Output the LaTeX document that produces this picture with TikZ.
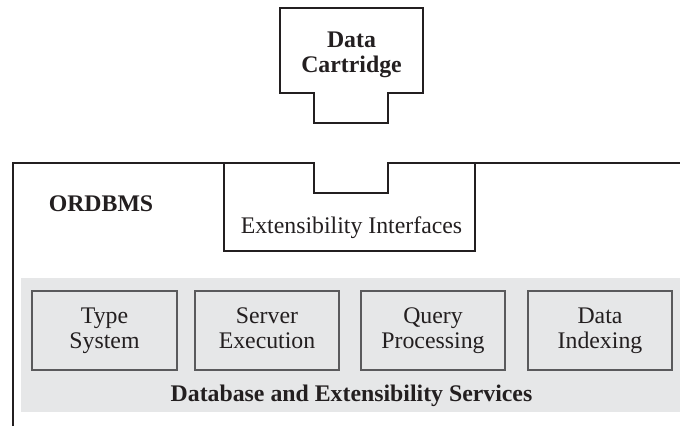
\documentclass[tikz,border=0pt]{standalone}
\usepackage{fontspec}
\setmainfont{Liberation Serif}
\definecolor{ink}{HTML}{231F20}
\definecolor{band}{HTML}{E6E7E8}
\definecolor{boxline}{HTML}{5A5A5C}
\newcommand{\lstrut}{\rule[-5pt]{0pt}{21pt}}
\begin{document}
\begin{tikzpicture}[x=1pt,y=-1pt,
  txt/.style={font=\fontsize{23.8}{25}\selectfont, text=ink, inner sep=0pt, align=center},
  btxt/.style={txt, font=\fontsize{23.8}{25}\selectfont\bfseries},
  frame/.style={draw=ink, line width=2pt, line join=miter},
  thinframe/.style={draw=ink, line width=1.1pt},
  svcbox/.style={txt, draw=boxline, line width=1.1pt, minimum width=144pt, minimum height=79pt}
]
\useasboundingbox (0,0) rectangle (680,426);

% Data Cartridge
\draw[frame, fill=white] (280,8) -- (423,8) -- (423,93) -- (388,93) -- (388,123)
  -- (314,123) -- (314,93) -- (280,93) -- cycle;
\node[btxt] (cart) at (351.5,55) {\lstrut Data\\\lstrut Cartridge};

% Gray band
\fill[band] (21,278) rectangle (680,412);

% Extensibility interfaces box
\draw[thinframe] (224,163) -- (224,251) -- (475,251) -- (475,163);
\node[txt, anchor=base] (ext) at (351.5,233) {Extensibility Interfaces};

% ORDBMS frame
\draw[frame] (13,426) -- (13,163) -- (314,163) -- (314,193) -- (388,193)
  -- (388,163) -- (680,163);
\node[btxt, anchor=base] (ordbms) at (101,211.5) {ORDBMS};

% Services
\node[svcbox, minimum width=145pt] (type) at (104.5,330.5) {\lstrut Type\\\lstrut System};
\node[svcbox] (server) at (267,330.5) {\lstrut Server\\\lstrut Execution};
\node[svcbox] (query) at (433,330.5) {\lstrut Query\\\lstrut Processing};
\node[svcbox] (index) at (600,330.5) {\lstrut Data\\\lstrut Indexing};
\node[btxt, anchor=base] (services) at (351.5,401) {Database and Extensibility Services};
\end{tikzpicture}
\end{document}
